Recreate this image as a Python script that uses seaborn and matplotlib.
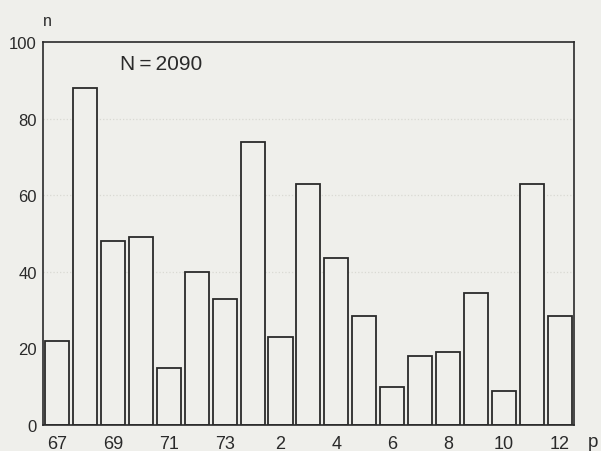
import pandas as pd
import matplotlib
matplotlib.use("Agg")
import matplotlib.pyplot as plt
import seaborn as sns

# data
periods = ["67", "68", "69", "70", "71", "72", "73",
           "1", "2", "3", "4", "5", "6", "7", "8", "9", "10", "11", "12"]
counts = [22, 88, 48, 49, 15, 40, 33,
          74, 23, 63, 43.5, 28.5, 10, 18, 19, 34.5, 9, 63, 28.5]
y_ticks = [0, 20, 40, 60, 80, 100]
total_label = "N\u2009=\u20092090"

bg = "#efefeb"
ink = "#2a2a2a"

sns.set_theme(style="white")
plt.rcParams["font.family"] = ["Liberation Sans", "DejaVu Sans"]

df = pd.DataFrame({"period": periods, "n": counts})

fig = plt.figure(figsize=(6.01, 4.52), dpi=100, facecolor=bg)
ax = fig.add_axes([0.0715, 0.0575, 0.8835, 0.8475])
ax.set_facecolor(bg)

# faint dotted guide lines, barely visible in the scan
for g in [40, 60, 80]:
    ax.axhline(g, color="#d9d9d3", linestyle=":", linewidth=0.9, zorder=0)

sns.barplot(data=df, x="period", y="n", order=periods, ax=ax,
            width=0.86, color=bg, edgecolor=ink, linewidth=1.3,
            errorbar=None, saturation=1, zorder=2)

ax.set_xlim(-0.5, len(periods) - 0.5)
ax.set_ylim(0, 100)
ax.set_yticks(y_ticks)
ax.set_yticklabels([str(t) for t in y_ticks], fontsize=12, color=ink)
ax.set_xticks(range(len(periods)))
ax.set_xticklabels([p if i % 2 == 0 else "" for i, p in enumerate(periods)],
                   fontsize=13, color=ink)
ax.tick_params(axis="x", length=0, pad=7.5)
ax.tick_params(axis="y", length=0, pad=4.5)
ax.set_xlabel("")
ax.set_ylabel("")

for s in ax.spines.values():
    s.set_visible(True)
    s.set_color(ink)
    s.set_linewidth(1.2)
    s.set_zorder(3)

ax.text(0.145, 0.945, total_label, transform=ax.transAxes, fontsize=15,
        color=ink, va="center", ha="left")
fig.text(43 / 601, 1 - 21 / 452, "n", fontsize=11.5, color=ink, va="center")
fig.text(588 / 601, 5 / 452, "p", fontsize=13.5, color=ink, va="baseline")

fig.savefig("out.png", dpi=100, facecolor=bg)
